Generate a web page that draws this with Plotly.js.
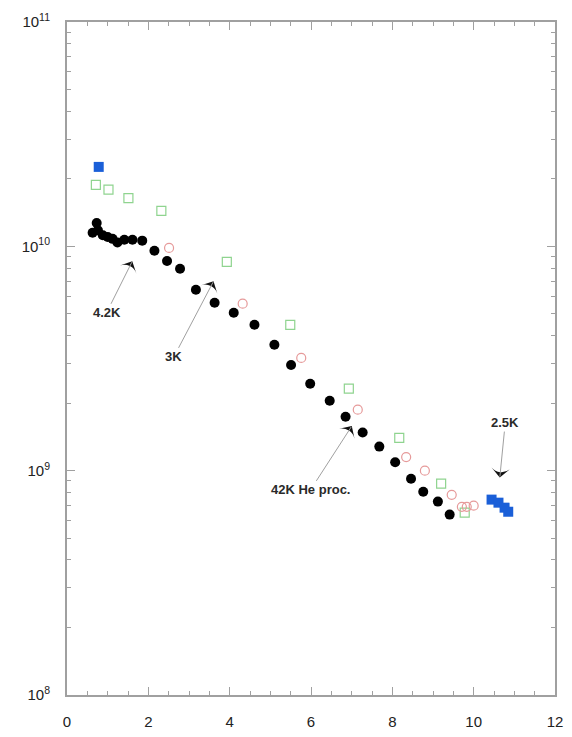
<!DOCTYPE html>
<html>
<head>
<meta charset="utf-8">
<script src="https://cdn.plot.ly/plotly-3.0.1.min.js"></script>
<style>html,body{margin:0;padding:0;background:#fff;}#chart{width:572px;height:737px;}</style>
</head>
<body>
<div id="chart"></div>
<script>
// Black filled circles
const blackX = [0.63, 0.73, 0.76, 0.88, 1.00, 1.12, 1.24, 1.41, 1.61, 1.85, 2.15, 2.46, 2.78, 3.17, 3.63, 4.10, 4.61, 5.10, 5.51, 5.98, 6.46, 6.85, 7.27, 7.68, 8.07, 8.46, 8.76, 9.12, 9.41];
const blackY = [1.15e10, 1.27e10, 1.18e10, 1.12e10, 1.10e10, 1.08e10, 1.04e10, 1.07e10, 1.07e10, 1.06e10, 9.55e9, 8.6e9, 7.94e9, 6.4e9, 5.6e9, 5.06e9, 4.47e9, 3.64e9, 2.96e9, 2.44e9, 2.05e9, 1.74e9, 1.48e9, 1.28e9, 1.09e9, 9.2e8, 8.05e8, 7.28e8, 6.37e8];
// Green open squares
const greenX = [0.71, 1.02, 1.51, 2.32, 3.93, 5.49, 6.93, 8.17, 9.20, 9.78];
const greenY = [1.88e10, 1.79e10, 1.64e10, 1.44e10, 8.53e9, 4.47e9, 2.32e9, 1.40e9, 8.75e8, 6.5e8];
// Pink open circles
const pinkX = [2.51, 4.32, 5.76, 7.15, 8.34, 8.80, 9.46, 9.71, 9.83, 10.0];
const pinkY = [9.84e9, 5.55e9, 3.18e9, 1.87e9, 1.15e9, 1.0e9, 7.8e8, 6.9e8, 6.9e8, 6.98e8];
// Blue filled squares
const blueX = [0.78, 10.44, 10.61, 10.76, 10.85];
const blueY = [2.26e10, 7.43e8, 7.2e8, 6.84e8, 6.56e8];

const yTickVals = [1e8, 1e9, 1e10, 1e11];
const yTickText = ['10<sup>8</sup>', '10<sup>9</sup>', '10<sup>10</sup>', '10<sup>11</sup>'];
const xTickVals = [0, 2, 4, 6, 8, 10, 12];
const xTickText = ['0', '2', '4', '6', '8', '10', '12'];

// Annotation labels and their arrow targets
const annText = ['4.2K', '3K', '42K He proc.', '2.5K'];
const annX = [1.66, 3.66, 7.07, 10.63];
const annY = [8.98e9, 7.31e9, 1.65e9, 8.85e8];
const annAx = [-28, -42, -44, 6];
const annAy = [56, 80, 68, -60];

const minorY = [];
for (let d = 8; d <= 10; d++) for (let k = 2; k <= 9; k++) minorY.push(k * Math.pow(10, d));

// arrowhead orientation (degrees clockwise from up), pointing from label toward target
const headAngle = annAx.map((ax, i) => Math.atan2(-ax, annAy[i]) * 180 / Math.PI);

const traces = [
  {x: greenX, y: greenY, type: 'scatter', mode: 'markers',
   marker: {symbol: 'square-open', size: 9, color: '#8fd48f', line: {width: 1.2}}},
  {x: pinkX, y: pinkY, type: 'scatter', mode: 'markers',
   marker: {symbol: 'circle-open', size: 9, color: '#e69a9a', line: {width: 1.2}}},
  {x: blackX, y: blackY, type: 'scatter', mode: 'markers',
   marker: {symbol: 'circle', size: 10, color: '#000000'}},
  {x: blueX, y: blueY, type: 'scatter', mode: 'markers',
   marker: {symbol: 'square', size: 10, color: '#1a5fd8'}},
  {x: annX, y: annY, type: 'scatter', mode: 'markers', hoverinfo: 'skip',
   marker: {symbol: 'arrow-wide', size: 13, color: '#111', angle: headAngle, standoff: 5}}
];

const annotations = annText.map((t, i) => ({
  x: annX[i], y: Math.log10(annY[i]), xref: 'x', yref: 'y',
  text: '<b>' + t + '</b>', showarrow: true, arrowhead: 0, arrowwidth: 1,
  arrowcolor: '#a0a0a0', ax: annAx[i], ay: annAy[i], standoff: 6,
  font: {family: 'Liberation Sans, Arial, sans-serif', size: 13, color: '#2a2a2a'}
}));

const axisCommon = {
  showline: true, linecolor: '#a0a0a0', linewidth: 2, mirror: 'ticks',
  ticks: 'inside', tickcolor: '#a0a0a0', tickwidth: 1, ticklen: 8,
  showgrid: false, zeroline: false,
  tickfont: {family: 'Liberation Sans, Arial, sans-serif', size: 15, color: '#222'}
};

const layout = {
  width: 572, height: 737,
  margin: {l: 67, r: 17, t: 22, b: 42},
  paper_bgcolor: '#fff', plot_bgcolor: '#fff',
  showlegend: false,
  xaxis: Object.assign({}, axisCommon, {
    range: [0, 12], tickmode: 'array', tickvals: xTickVals, ticktext: xTickText,
    ticklabelstandoff: 12,
    minor: {ticks: 'inside', dtick: 0.5, ticklen: 4, tickcolor: '#a0a0a0', showgrid: false}
  }),
  yaxis: Object.assign({}, axisCommon, {
    type: 'log', range: [8, 11], tickmode: 'array', tickvals: yTickVals, ticktext: yTickText,
    ticklabelstandoff: 12,
    minor: {ticks: 'inside', tickmode: 'array', tickvals: minorY, ticklen: 4, tickcolor: '#a0a0a0', showgrid: false}
  }),
  annotations: annotations
};

Plotly.newPlot('chart', traces, layout, {displayModeBar: false, staticPlot: true});
</script>
</body>
</html>
